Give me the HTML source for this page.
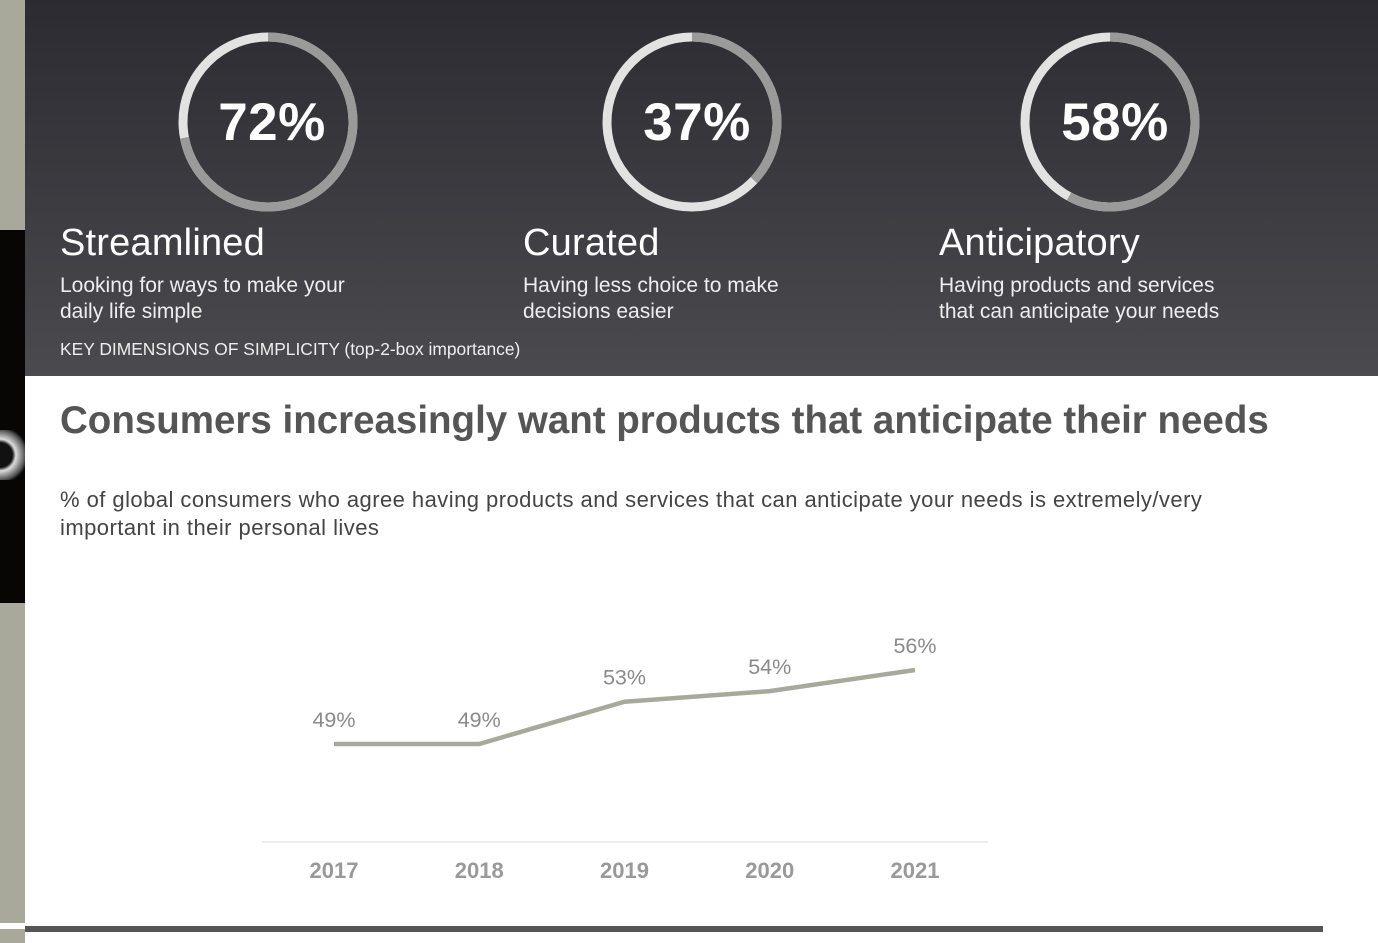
<!DOCTYPE html>
<html><head><meta charset="utf-8"><style>
body{margin:0;width:1378px;height:943px;position:relative;overflow:hidden;background:#fff;font-family:"Liberation Sans",Arial,sans-serif}
.a{position:absolute;white-space:nowrap}
#hdr{position:absolute;left:25px;top:0;width:1353px;height:376px;background:linear-gradient(#2b2b31,#4a4a4f)}
.h{color:#fff;font-size:38px;letter-spacing:0.2px}
.d{color:#eee;font-size:21px;line-height:26px}
.pct{color:#fff;font-size:53px;font-weight:bold;text-align:center;width:200px;letter-spacing:0.5px}
</style></head><body>
<div class="a" style="left:0;top:0;width:25px;height:230px;background:#a9a99b"></div>
<div class="a" style="left:0;top:230px;width:25px;height:373px;background:#070605"></div>
<div class="a" style="left:0;top:430px;width:25px;height:50px;background:radial-gradient(ellipse at 0% 50%,#111 35%,#ddd 45%,#555 70%,#070605 80%)"></div>
<div class="a" style="left:0;top:603px;width:25px;height:320px;background:#a9a99b"></div>
<div class="a" style="left:0;top:929px;width:25px;height:14px;background:#a9a99b"></div>
<div id="hdr"></div>
<svg class="a" style="left:0;top:0" width="1378" height="380">
<g id="rings"></g></svg>
<div class="a pct" style="left:172px;top:92px">72%</div>
<div class="a pct" style="left:597px;top:92px">37%</div>
<div class="a pct" style="left:1015px;top:92px">58%</div>
<div class="a h" style="left:60px;top:222px">Streamlined</div>
<div class="a h" style="left:523px;top:222px">Curated</div>
<div class="a h" style="left:939px;top:222px">Anticipatory</div>
<div class="a d" style="left:60px;top:273px">Looking for ways to make your<br>daily life simple</div>
<div class="a d" style="left:523px;top:273px">Having less choice to make<br>decisions easier</div>
<div class="a d" style="left:939px;top:273px">Having products and services<br>that can anticipate your needs</div>
<div class="a" style="left:60px;top:339px;color:#eee;font-size:17.4px">KEY DIMENSIONS OF SIMPLICITY (top-2-box importance)</div>
<div class="a" style="left:60px;top:399px;color:#555;font-size:38.5px;font-weight:bold">Consumers increasingly want products that anticipate their needs</div>
<div class="a" style="left:60px;top:486px;color:#444;font-size:22px;line-height:28px;letter-spacing:0.45px">% of global consumers who agree having products and services that can anticipate your needs is extremely/very<br>important in their personal lives</div>
<svg class="a" style="left:0;top:0" width="1378" height="943">
<line x1="262" y1="842" x2="988" y2="842" stroke="#e6e6e6" stroke-width="1.5"/>
<g id="chart"></g></svg>
<div class="a" style="left:25px;top:926px;width:1298px;height:6px;background:#555"></div>
<script>
const ringValues=[72,37,58];
const ringCx=[268,692,1110];
const years=["2017","2018","2019","2020","2021"];
const values=[49,49,53,54,56];
const NS="http://www.w3.org/2000/svg";
const rg=document.getElementById('rings');
ringValues.forEach((v,i)=>{
 const cx=ringCx[i],cy=122,r=85,C=2*Math.PI*r;
 const bg=document.createElementNS(NS,'circle');
 bg.setAttribute('cx',cx);bg.setAttribute('cy',cy);bg.setAttribute('r',r);
 bg.setAttribute('fill','none');bg.setAttribute('stroke','#e2e2e2');bg.setAttribute('stroke-width','9');
 
 
 rg.appendChild(bg);
 const fg=document.createElementNS(NS,'circle');
 fg.setAttribute('cx',cx);fg.setAttribute('cy',cy);fg.setAttribute('r',r);
 fg.setAttribute('fill','none');fg.setAttribute('stroke','#9a9a9a');fg.setAttribute('stroke-width','9');
 fg.setAttribute('stroke-dasharray',(C*v/100)+' '+C);
 fg.setAttribute('transform','rotate(-90 '+cx+' '+cy+')');
 
 
 rg.appendChild(fg);
});
const xS=i=>334+i*145.25;
const yS=v=>744-(v-49)*10.57;
const g=document.getElementById('chart');
const line=document.createElementNS(NS,'polyline');
line.setAttribute('points',values.map((v,i)=>xS(i)+','+yS(v)).join(' '));
line.setAttribute('fill','none');line.setAttribute('stroke','#a9a99b');line.setAttribute('stroke-width','4.5');


g.appendChild(line);
values.forEach((v,i)=>{
 const t=document.createElementNS(NS,'text');
 t.setAttribute('x',xS(i));t.setAttribute('y',yS(v)-17);t.setAttribute('text-anchor','middle');
 t.setAttribute('font-size','21.5');t.setAttribute('fill','#8a8a8a');t.setAttribute('font-family','Liberation Sans, sans-serif');
 t.textContent=v+'%';
 
 
 g.appendChild(t);
 const y=document.createElementNS(NS,'text');
 y.setAttribute('x',xS(i));y.setAttribute('y',878);y.setAttribute('text-anchor','middle');
 y.setAttribute('font-size','22');y.setAttribute('font-weight','bold');y.setAttribute('fill','#999');y.setAttribute('font-family','Liberation Sans, sans-serif');
 y.textContent=years[i];
 
 
 g.appendChild(y);
});
</script>
</body></html>
